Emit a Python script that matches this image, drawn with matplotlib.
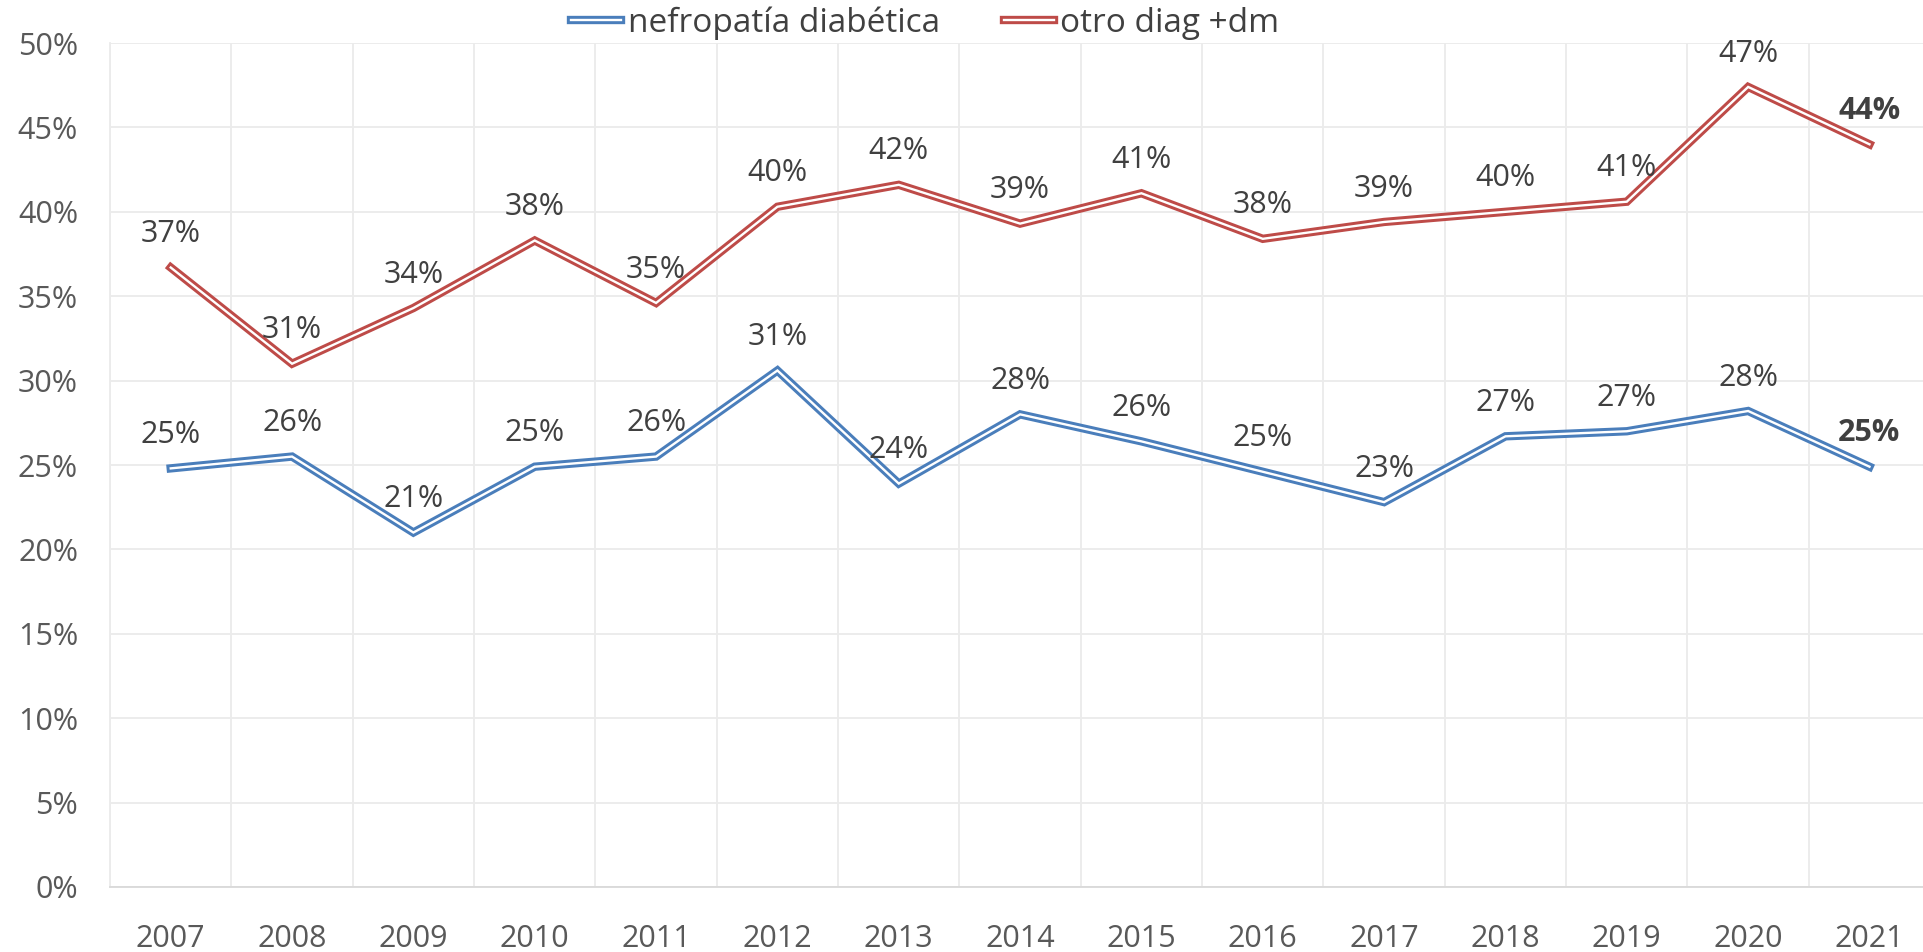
import matplotlib.pyplot as plt
import matplotlib.patheffects as pe
import numpy as np

plt.rcParams['font.family'] = ['Open Sans', 'DejaVu Sans']

years = ['2007', '2008', '2009', '2010', '2011', '2012', '2013', '2014',
         '2015', '2016', '2017', '2018', '2019', '2020', '2021']
nefropatia = [24.8, 25.5, 21.0, 24.9, 25.5, 30.6, 23.9, 28.0,
              26.4, 24.6, 22.8, 26.7, 27.0, 28.2, 24.9]
otro_dm = [36.7, 31.0, 34.3, 38.3, 34.6, 40.3, 41.6, 39.3,
           41.1, 38.4, 39.4, 40.0, 40.6, 47.4, 44.0]

series = [
    ('nefropatía diabética', nefropatia, '#4A7EBB'),
    ('otro diag +dm', otro_dm, '#BE4B48'),
]

fig = plt.figure(figsize=(19.24, 9.52), dpi=100)
ax = fig.add_axes([0.0572, 0.0683, 0.946, 0.8865])

x = np.arange(len(years))
for name, vals, col in series:
    # double line: thick coloured stroke with a thin white core
    ax.plot(x, vals, color='white', lw=1.7, label=name, solid_joinstyle='miter',
            path_effects=[pe.Stroke(linewidth=6.0, foreground=col), pe.Normal()])
    for i, v in enumerate(vals):
        last = i == len(vals) - 1
        ax.annotate(f'{round(v):.0f}%', (i, v), xytext=(0, 24), textcoords='offset points',
                    ha='center', va='center', fontsize=22, color='#404040',
                    fontweight='bold' if last else 'normal')

ax.set_xlim(-0.5, len(years) - 0.5)
ax.set_ylim(0, 50)
ax.set_yticks(np.arange(0, 51, 5))
ax.set_yticklabels([f'{t}%' for t in range(0, 51, 5)])
ax.set_xticks(x)
ax.set_xticklabels(years)
ax.set_xticks(np.arange(-0.5, len(years), 1), minor=True)
ax.tick_params(axis='both', which='both', length=0, labelsize=22, colors='#595959')
ax.tick_params(axis='y', pad=23)
ax.tick_params(axis='x', pad=27)
ax.grid(True, axis='y', which='major', color='#EBEBEB', lw=1.3)
ax.grid(True, axis='x', which='minor', color='#EBEBEB', lw=1.3)
ax.set_axisbelow(True)
for s in ['top', 'right']:
    ax.spines[s].set_visible(False)
ax.spines['left'].set_color('#EBEBEB')
ax.spines['bottom'].set_color('#D9D9D9')
ax.spines['left'].set_linewidth(1.3)
ax.spines['bottom'].set_linewidth(1.3)

leg = fig.legend(loc='center', bbox_to_anchor=(0.481, 0.976), ncol=2, frameon=False,
                 fontsize=24, handlelength=1.5, handletextpad=0.2, columnspacing=1.9,
                 labelcolor='#404040')

fig.savefig('out.png', dpi=100)
